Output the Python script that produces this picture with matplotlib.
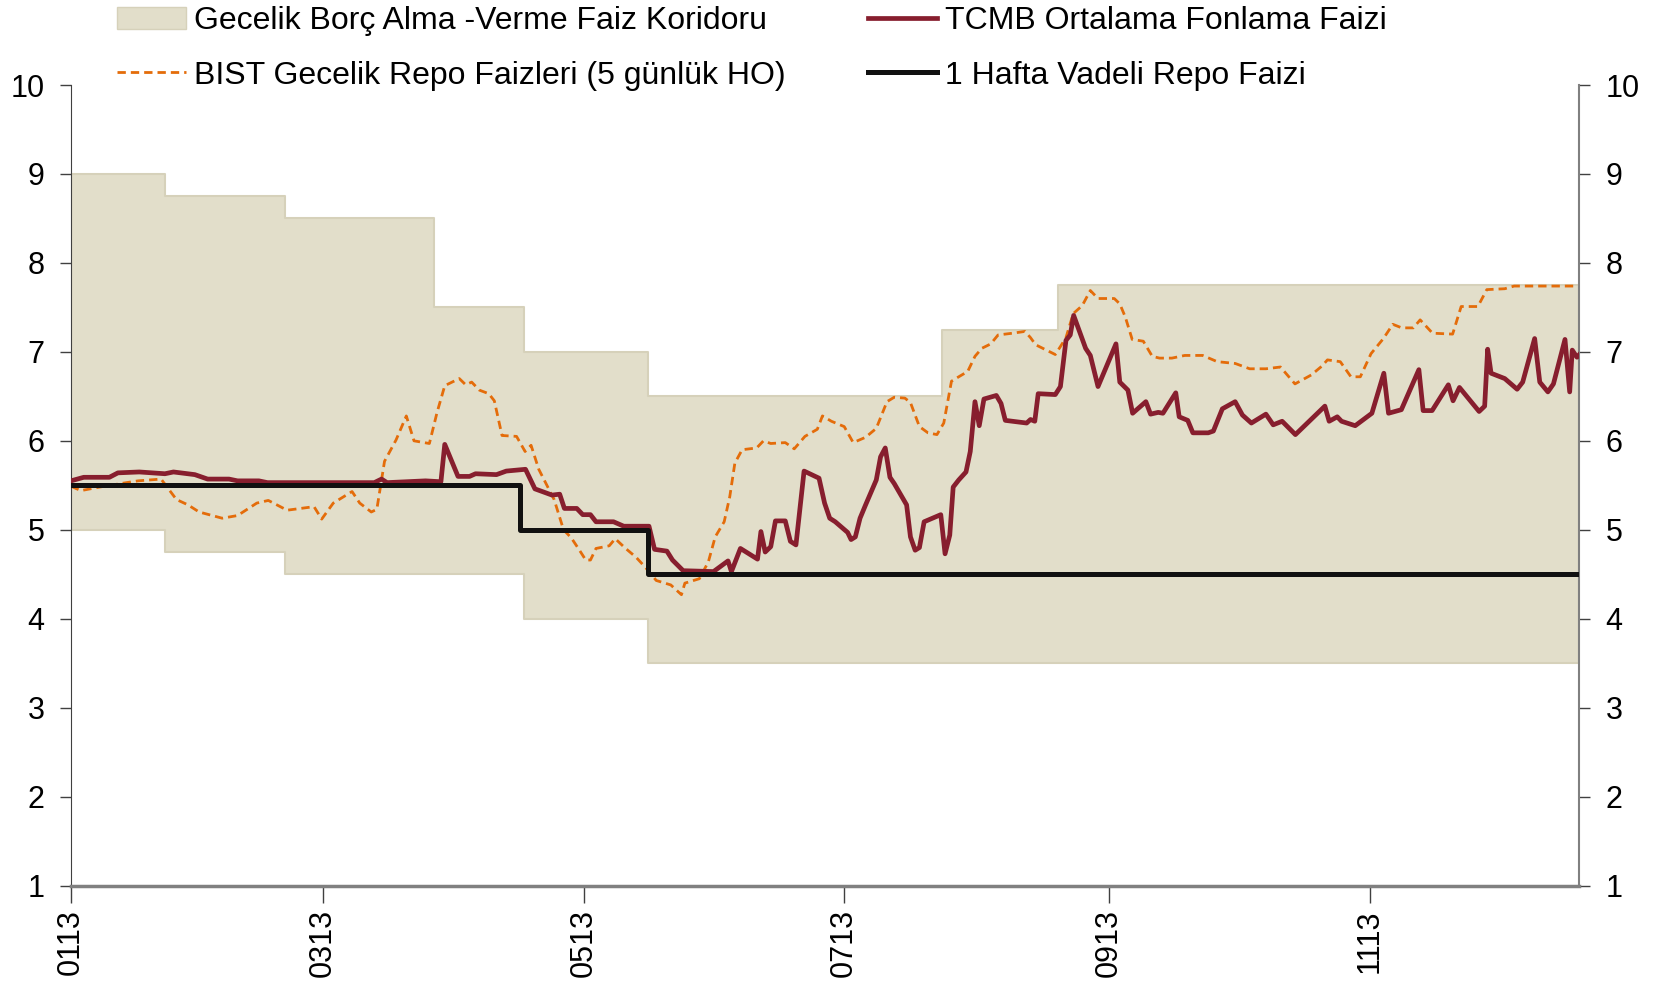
import pandas as pd
import matplotlib
matplotlib.use("Agg")
import matplotlib.pyplot as plt
import matplotlib.dates as mdates
from matplotlib.patches import Patch

plt.rcParams['font.family'] = ['Liberation Sans', 'DejaVu Sans']

start = pd.Timestamp('2013-01-01')
end = pd.Timestamp('2013-12-20')

# faiz koridoru (degisim tarihleri)
corr_dates = ['2013-01-01', '2013-01-23', '2013-02-20', '2013-03-27', '2013-04-17',
              '2013-05-16', '2013-07-24', '2013-08-20', '2013-12-20']
corr_upper = [9.0, 8.75, 8.5, 7.5, 7.0, 6.5, 7.25, 7.75, 7.75]
corr_lower = [5.0, 4.75, 4.5, 4.5, 4.0, 3.5, 3.5, 3.5, 3.5]

# 1 hafta vadeli repo
repo_dates = ['2013-01-01', '2013-04-16', '2013-05-16', '2013-12-20']
repo_rate = [5.5, 5.0, 4.5, 4.5]

# TCMB ortalama fonlama faizi (yilin gunu, deger)
tcmb_day = [0, 3, 9, 11, 16, 22, 24, 29, 32, 37, 39, 44, 46, 58, 71, 72.7, 74, 83, 86.6, 87.5,
            90.6, 93.3, 94.7, 99.6, 101.9, 106.4, 108.6, 112.6, 114.4, 115.5, 118.4, 119.8,
            121.6, 122.9, 127, 129.4, 135.3, 136.6, 139.5, 140.8, 143.3, 150.4, 153.8, 154.6,
            156.7, 160.7, 161.5, 162.5, 163.8, 164.9, 167.2, 168.4, 169.7, 171.6, 175.1, 176.4,
            177.6, 178.9, 181.8, 182.6, 183.6, 184.7, 186, 188.5, 189.5, 190.6, 191.7, 192.7,
            195.6, 196.5, 197.6, 198.6, 199.7, 203.6, 204.6, 205.7, 206.5, 207.8, 209.5, 210.5,
            211.6, 212.6, 213.7, 216.6, 217.7, 218.7, 223.7, 224.6, 225.6, 226.4, 230.4, 231.6,
            232.9, 233.9, 234.7, 237.5, 238.6, 240.4, 244.6, 245.5, 247.4, 248.5, 251.6, 252.7,
            254.5, 255.6, 258.6, 259.4, 261.4, 262.6, 266.2, 267.4, 269.5, 272.5, 274.2, 276.3,
            279.7, 281.4, 283.5, 286.6, 293.5, 294.5, 296.4, 297.4, 300.6, 304.5, 307.3, 308.4,
            311.4, 315.5, 316.5, 318.6, 322.4, 323.5, 325, 329.6, 330.9, 331.6, 332.4, 335.6,
            338.5, 339.8, 342.6, 343.8, 345.7, 347, 349.7, 350.8, 351.4, 352.5, 353.8]
tcmb_val = [5.55, 5.59, 5.59, 5.64, 5.65, 5.63, 5.65, 5.62, 5.57, 5.57, 5.55, 5.55, 5.53, 5.53, 5.53, 5.57, 5.53, 5.55, 5.54, 5.96,
            5.60, 5.60, 5.63, 5.62, 5.66, 5.68, 5.46, 5.39, 5.40, 5.24, 5.24, 5.17,
            5.17, 5.09, 5.09, 5.04, 5.04, 4.78, 4.76, 4.66, 4.54, 4.53, 4.65, 4.53,
            4.79, 4.67, 4.98, 4.75, 4.81, 5.10, 5.10, 4.87, 4.83, 5.66, 5.58, 5.30,
            5.13, 5.09, 4.97, 4.89, 4.92, 5.13, 5.28, 5.56, 5.82, 5.92, 5.59, 5.52,
            5.28, 4.92, 4.77, 4.80, 5.09, 5.17, 4.73, 4.94, 5.48, 5.56, 5.65, 5.88,
            6.44, 6.17, 6.47, 6.51, 6.42, 6.23, 6.20, 6.24, 6.22, 6.53, 6.52, 6.61,
            7.13, 7.19, 7.41, 7.04, 6.96, 6.61, 7.09, 6.66, 6.57, 6.31, 6.44, 6.30,
            6.32, 6.31, 6.54, 6.27, 6.23, 6.09, 6.09, 6.11, 6.36, 6.44, 6.29, 6.20,
            6.30, 6.18, 6.22, 6.07, 6.39, 6.22, 6.27, 6.22, 6.17, 6.31, 6.76, 6.31,
            6.35, 6.80, 6.34, 6.34, 6.63, 6.45, 6.60, 6.33, 6.39, 7.03, 6.76, 6.70,
            6.58, 6.66, 7.15, 6.66, 6.55, 6.64, 7.14, 6.55, 7.02, 6.94, 7.01]

# BIST gecelik repo faizleri, 5 gunluk HO (yilin gunu, deger)
bist_day = [0, 2.3, 6.7, 13, 15.7, 21.1, 24.7, 27.4, 30, 35.4, 39, 43.5, 46.2, 50.6, 56.9, 58.7,
            61.4, 65.8, 67.6, 70.3, 71.6, 73.4, 76.1, 78.5, 80.3, 83.9, 85.7, 87.5, 90.9, 92.4,
            93.8, 95.6, 97.8, 99.1, 100.9, 104.3, 106.3, 107.7, 109.5, 113.1, 115.3, 117.1,
            118.9, 120.5, 121.6, 122.9, 126, 127.4, 129.6, 132.3, 134.6, 137, 140.4, 142.9,
            143.7, 147.1, 149.2, 150.8, 152.9, 154.2, 155.4, 157.1, 160.5, 162.1, 163.8, 167.2,
            169.3, 171.8, 174.7, 175.9, 178, 181, 183.1, 186, 188.5, 191, 192.7, 195.2, 196.5,
            198.6, 200.6, 202.7, 204.3, 206.1, 207.8, 209.9, 211.6, 213.2, 215.3, 217, 220.4,
            223.3, 224.6, 225.8, 228.3, 230.4, 231.6, 232.9, 234.6, 236.7, 238.6, 240.4, 244.2,
            245.5, 246.8, 248.4, 251, 253.1, 254.8, 257.7, 260.7, 264.9, 268.3, 272.5, 275.9,
            279.7, 283.1, 286.5, 290.3, 292.8, 294.1, 297.1, 299.6, 301.8, 304.3, 307.2, 309.4,
            311.5, 314.2, 315.8, 318.7, 323.4, 325.4, 329.3, 331.4, 335.6, 337.8, 353.8]
bist_val = [5.49, 5.44, 5.48, 5.53, 5.55, 5.57, 5.34, 5.28, 5.20, 5.13, 5.16, 5.30, 5.33, 5.22, 5.26, 5.12,
            5.30, 5.43, 5.30, 5.20, 5.23, 5.77, 6.01, 6.28, 6.00, 5.97, 6.32, 6.62, 6.70, 6.63,
            6.66, 6.57, 6.53, 6.45, 6.06, 6.05, 5.88, 5.95, 5.68, 5.34, 5.00, 4.91,
            4.78, 4.66, 4.66, 4.79, 4.82, 4.90, 4.80, 4.69, 4.57, 4.43, 4.38, 4.27,
            4.40, 4.45, 4.64, 4.92, 5.09, 5.37, 5.75, 5.90, 5.92, 6.00, 5.97, 5.98,
            5.91, 6.05, 6.13, 6.28, 6.22, 6.16, 5.98, 6.04, 6.14, 6.44, 6.49, 6.48, 6.43,
            6.16, 6.09, 6.07, 6.20, 6.67, 6.72, 6.78, 6.95, 7.04, 7.09, 7.19, 7.21,
            7.23, 7.16, 7.08, 7.02, 6.97, 7.06, 7.16, 7.43, 7.52, 7.69, 7.60, 7.60,
            7.54, 7.39, 7.14, 7.12, 6.95, 6.93, 6.93, 6.96, 6.96, 6.89, 6.87, 6.81,
            6.81, 6.83, 6.64, 6.74, 6.84, 6.91, 6.89, 6.72, 6.72, 6.98, 7.15, 7.31,
            7.27, 7.27, 7.36, 7.21, 7.20, 7.51, 7.51, 7.70, 7.71, 7.74, 7.74]

corr_x = pd.to_datetime(corr_dates)
repo_x = pd.to_datetime(repo_dates)
tcmb_x = start + pd.to_timedelta(tcmb_day, unit='D')
bist_x = start + pd.to_timedelta(bist_day, unit='D')

band_color = '#E2DECA'
red = '#871E2E'
orange = '#E46C0A'

fig = plt.figure(figsize=(16.65, 9.82), dpi=100)
ax = fig.add_axes([0.0426, 0.0982, 0.9058, 0.8152])

ax.fill_between(corr_x, corr_lower, corr_upper, step='post', color=band_color,
                edgecolor='#D6D1BA', linewidth=1.5, zorder=1)
ax.plot(bist_x, bist_val, color=orange, lw=2.0, ls=(0, (3, 1.8)), zorder=2)
ax.plot(tcmb_x, tcmb_val, color=red, lw=3.4, zorder=3)
ax.plot(repo_x, repo_rate, color='#111111', lw=3.6, drawstyle='steps-post', zorder=4)

ax.set_xlim(start, end)
ax.set_ylim(1, 10)
ax.set_yticks(range(1, 11))
ax.xaxis.set_major_locator(mdates.MonthLocator(bymonth=[1, 3, 5, 7, 9, 11]))
ax.xaxis.set_major_formatter(mdates.DateFormatter('%m%y'))

ax.tick_params(axis='y', which='both', left=True, right=True, labelleft=True, labelright=True,
               direction='out', length=8, width=1, labelsize=22, pad=11, color='#404040')
ax.tick_params(axis='x', direction='out', length=12, width=1, labelsize=22, pad=5,
               labelrotation=90, color='#404040')

ax.spines['top'].set_visible(False)
ax.spines['left'].set_color('#404040')
ax.spines['right'].set_color('#808080')
ax.spines['right'].set_linewidth(1.5)
ax.spines['bottom'].set_color('#808080')
ax.spines['bottom'].set_linewidth(2.5)

handles = [Patch(facecolor=band_color, edgecolor='#D6D1BA'),
           plt.Line2D([], [], color=orange, lw=2.0, ls=(0, (3, 1.8))),
           plt.Line2D([], [], color=red, lw=3.4),
           plt.Line2D([], [], color='#111111', lw=3.6)]
labels = ['Gecelik Borç Alma -Verme Faiz Koridoru',
          'BIST Gecelik Repo Faizleri (5 günlük HO)',
          'TCMB Ortalama Fonlama Faizi',
          '1 Hafta Vadeli Repo Faizi']
fig.legend(handles, labels, loc='upper left', bbox_to_anchor=(0.059, 1.013), ncol=2,
           frameon=False, fontsize=23, handlelength=2.16, handletextpad=0.23,
           columnspacing=2.6, labelspacing=0.76, borderpad=0.1)

fig.savefig('out.png', dpi=100)
